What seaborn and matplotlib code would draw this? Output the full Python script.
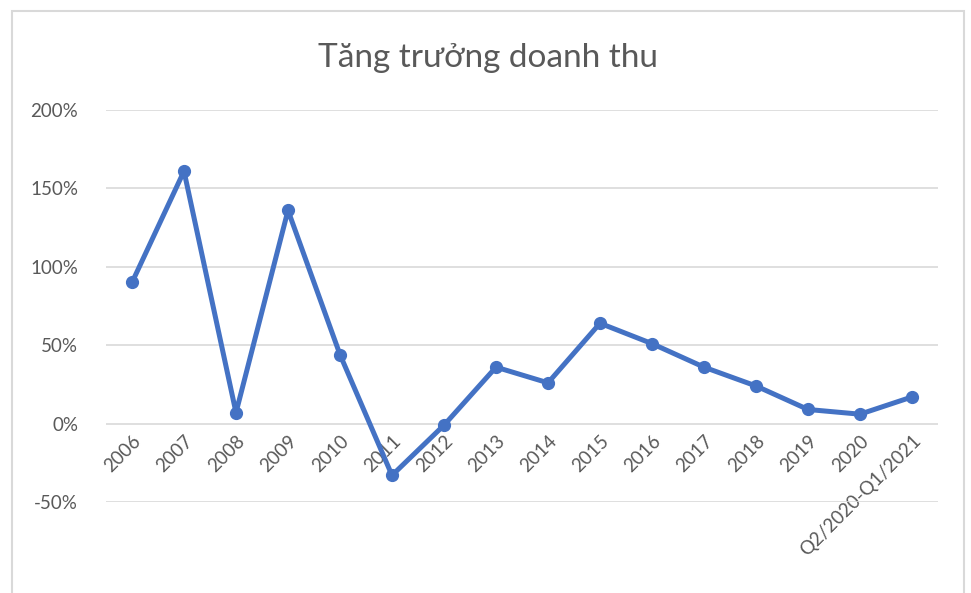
import matplotlib
matplotlib.use("Agg")
import matplotlib.pyplot as plt
import matplotlib.patches as mpatches
from matplotlib.ticker import PercentFormatter
import seaborn as sns
import pandas as pd

periods = ["2006", "2007", "2008", "2009", "2010", "2011", "2012", "2013",
           "2014", "2015", "2016", "2017", "2018", "2019", "2020",
           "Q2/2020-Q1/2021"]
growth = [0.90, 1.61, 0.07, 1.36, 0.44, -0.33, -0.01, 0.36,
          0.26, 0.64, 0.51, 0.36, 0.24, 0.09, 0.06, 0.17]
y_ticks = [-0.5, 0.0, 0.5, 1.0, 1.5, 2.0]
title = "Tăng trưởng doanh thu"

df = pd.DataFrame({"period": periods, "growth": growth, "pos": range(len(periods))})

sns.set_theme(style="white")
plt.rcParams["font.family"] = ["Lato", "DejaVu Sans"]
plt.rcParams["axes.unicode_minus"] = False

W, H = 971, 593
fig = plt.figure(figsize=(W / 100, H / 100), dpi=100)
fig.patch.set_facecolor("white")

# light chart-area frame
fig.patches.append(mpatches.Rectangle((12 / W, -0.05), (964 - 12) / W, (H - 11) / H + 0.05,
                                      transform=fig.transFigure, fill=False,
                                      edgecolor="#D9D9D9", linewidth=1.5))

left, right, top, bottom = 106, 938, 110, 502
ax = fig.add_axes([left / W, 1 - bottom / H, (right - left) / W, (bottom - top) / H])

blue = "#4472C4"
sns.lineplot(data=df, x="pos", y="growth", ax=ax, color=blue, linewidth=3.6,
             marker="o", markersize=8.5, markeredgecolor=blue, markeredgewidth=1)

ax.set_xlim(-0.5, len(periods) - 0.5)
ax.set_ylim(-0.5, 2.0)
ax.set_yticks(y_ticks)
ax.yaxis.set_major_formatter(PercentFormatter(1.0, decimals=0))
ax.grid(axis="y", color="#D9D9D9", linewidth=1.2)
ax.set_axisbelow(True)
for s in ax.spines.values():
    s.set_visible(False)
ax.spines["bottom"].set_position(("data", 0))

ax.set_xticks(list(df["pos"]))
ax.set_xticklabels(periods, rotation=45, ha="right", rotation_mode="anchor")
ax.tick_params(axis="x", length=0, pad=6, labelsize=13.5, labelcolor="#595959")
ax.tick_params(axis="y", length=0, pad=20, labelsize=13.5, labelcolor="#595959")
ax.set_xlabel("")
ax.set_ylabel("")

fig.text(488 / W, 1 - 58 / H, title, ha="center", va="center",
         fontsize=24, color="#595959")

fig.savefig("out.png", dpi=100, facecolor="white")
